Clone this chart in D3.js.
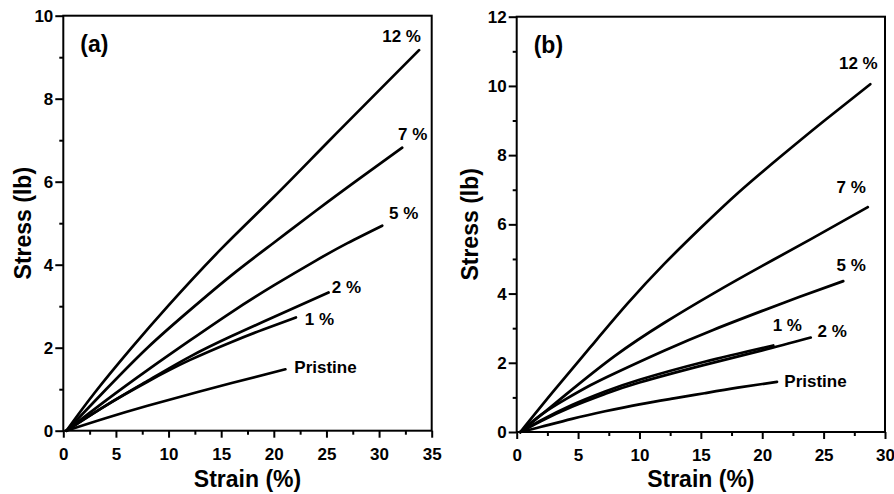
<!DOCTYPE html>
<html>
<head>
<meta charset="utf-8">
<script src="https://cdn.jsdelivr.net/npm/d3@7"></script>
<style>
body { margin: 0; background: #fff; }
text { font-family: "Liberation Sans", Arial, sans-serif; font-weight: bold; fill: #000; }
.curve { fill: none; stroke: #000; stroke-width: 2.7; stroke-linejoin: round; stroke-linecap: round; }
.frame { fill: none; stroke: #000; stroke-width: 2; }
.axis line { stroke: #000; stroke-width: 2; }
.axis path { display: none; }
</style>
</head>
<body>
<svg id="chart" width="894" height="494"></svg>
<script>
// DATA  (strain %, stress lb)

// panel (a)
var a_pristine = [[0.3,0],[4,0.3],[8,0.6],[12,0.88],[16,1.15],[21.1,1.48]];
var a_1 = [[0.3,0],[4,0.6],[8,1.18],[12,1.7],[16,2.14],[19,2.44],[22.1,2.73]];
var a_2 = [[0.3,0],[4,0.6],[8,1.2],[12,1.78],[16,2.28],[20,2.74],[25.2,3.33]];
var a_5 = [[0.3,0],[4,0.72],[8,1.46],[12,2.17],[16,2.86],[20,3.5],[24,4.1],[27,4.52],[30.3,4.94]];
var a_7 = [[0.3,0],[4,0.98],[8,2.0],[12,2.9],[16,3.75],[20,4.53],[24,5.3],[28,6.05],[32.2,6.82]];
var a_12 = [[0.3,0],[3,0.92],[6.5,2.0],[10,3.02],[15,4.38],[20,5.63],[25,6.92],[30,8.2],[33.8,9.17]];

// panel (b)
var b_pristine = [[0.3,0],[2,0.15],[4.5,0.38],[7.2,0.6],[10,0.8],[12.8,0.97],[15.3,1.12],[18,1.28],[21.2,1.45]];
var b_1 = [[0.3,0],[2,0.34],[4.5,0.78],[7.2,1.17],[10,1.51],[15.3,2.03],[20.9,2.5]];
var b_2 = [[0.3,0],[2,0.32],[4.5,0.73],[7.2,1.1],[10,1.43],[15.3,1.94],[20,2.36],[23.95,2.73]];
var b_5 = [[0.3,0],[2,0.5],[4,0.95],[6,1.35],[8,1.7],[12,2.35],[16,2.95],[20,3.5],[23,3.9],[26.6,4.36]];
var b_7 = [[0.3,0],[4,1.08],[8,2.2],[12,3.15],[16,4.0],[20,4.8],[24,5.58],[28.6,6.5]];
var b_12 = [[0.3,0],[3,1.18],[6,2.45],[9,3.7],[12,4.85],[15,5.9],[18,6.9],[21.5,7.96],[25,8.98],[28.8,10.05]];

// tick values
var a_xTicks = [0, 5, 10, 15, 20, 25, 30, 35];
var a_xMinor = [2.5, 7.5, 12.5, 17.5, 22.5, 27.5, 32.5];
var a_yTicks = [0, 2, 4, 6, 8, 10];
var a_yMinor = [1, 3, 5, 7, 9];
var b_xTicks = [0, 5, 10, 15, 20, 25, 30];
var b_xMinor = [2.5, 7.5, 12.5, 17.5, 22.5, 27.5];
var b_yTicks = [0, 2, 4, 6, 8, 10, 12];
var b_yMinor = [1, 3, 5, 7, 9, 11];

// curve labels [text, strain, stress]
var a_labels = [["12 %", 30.3, 9.36], ["7 %", 31.8, 7.0], ["5 %", 30.95, 5.1], ["2 %", 25.5, 3.31], ["1 %", 22.95, 2.55], ["Pristine", 21.95, 1.38]];
var b_labels = [["12 %", 26.25, 10.49], ["7 %", 26.05, 6.9], ["5 %", 26.05, 4.66], ["1 %", 20.85, 2.93], ["2 %", 24.5, 2.75], ["Pristine", 21.8, 1.31]];

var svg = d3.select("#chart");

function drawPanel(opt) {
    var x = d3.scaleLinear().domain(opt.xDomain).range([opt.left, opt.right]);
    var y = d3.scaleLinear().domain(opt.yDomain).range([opt.bottom, opt.top]);
    var g = svg.append("g");

    // minor ticks
    g.append("g").attr("class", "axis")
        .attr("transform", "translate(0," + opt.bottom + ")")
        .call(d3.axisBottom(x).tickValues(opt.xMinor).tickSize(4).tickFormat(""));
    g.append("g").attr("class", "axis")
        .attr("transform", "translate(" + opt.left + ",0)")
        .call(d3.axisLeft(y).tickValues(opt.yMinor).tickSize(4).tickFormat(""));

    // major ticks
    g.append("g").attr("class", "axis")
        .attr("transform", "translate(0," + opt.bottom + ")")
        .call(d3.axisBottom(x).tickValues(opt.xTicks).tickSize(7).tickPadding(10))
        .selectAll("text").style("font-size", "17px").attr("fill", "#000");
    g.append("g").attr("class", "axis")
        .attr("transform", "translate(" + opt.left + ",0)")
        .call(d3.axisLeft(y).tickValues(opt.yTicks).tickSize(8).tickPadding(2))
        .selectAll("text").style("font-size", "17px").attr("fill", "#000");

    g.append("rect").attr("class", "frame")
        .attr("x", opt.left).attr("y", opt.top)
        .attr("width", opt.right - opt.left).attr("height", opt.bottom - opt.top);

    var line = d3.line()
        .x(d => x(d[0]))
        .y(d => y(d[1]))
        .curve(d3.curveNatural);

    opt.series.forEach(s => {
        g.append("path").attr("class", "curve").attr("d", line(s));
    });

    opt.labels.forEach(l => {
        g.append("text")
            .attr("x", x(l[1]))
            .attr("y", y(l[2]))
            .style("font-size", "17px")
            .text(l[0]);
    });

    g.append("text")
        .attr("x", opt.left + 17)
        .attr("y", opt.top + 36)
        .style("font-size", "23px")
        .text(opt.tag);

    g.append("text")
        .attr("x", (opt.left + opt.right) / 2)
        .attr("y", 487)
        .attr("text-anchor", "middle")
        .style("font-size", "23px")
        .text("Strain (%)");

    g.append("text")
        .attr("transform", "translate(" + opt.yTitleX + "," + ((opt.top + opt.bottom) / 2) + ") rotate(-90)")
        .attr("text-anchor", "middle")
        .style("font-size", "23px")
        .text("Stress (lb)");
}

drawPanel({
    left: 63.3, right: 431.7, top: 15.7, bottom: 430.7,
    xDomain: [0, 35], yDomain: [0, 10],
    xTicks: a_xTicks, xMinor: a_xMinor, yTicks: a_yTicks, yMinor: a_yMinor,
    series: [a_pristine, a_1, a_2, a_5, a_7, a_12],
    labels: a_labels, tag: "(a)", yTitleX: 31
});

drawPanel({
    left: 516.7, right: 885, top: 16.7, bottom: 432,
    xDomain: [0, 30], yDomain: [0, 12],
    xTicks: b_xTicks, xMinor: b_xMinor, yTicks: b_yTicks, yMinor: b_yMinor,
    series: [b_pristine, b_1, b_2, b_5, b_7, b_12],
    labels: b_labels, tag: "(b)", yTitleX: 478
});
</script>
</body>
</html>
